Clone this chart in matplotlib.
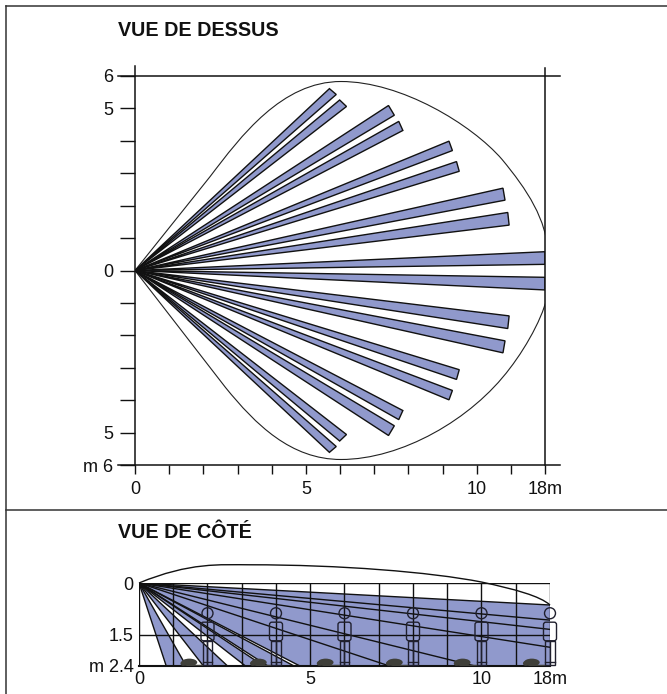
import matplotlib
matplotlib.use('Agg')
import matplotlib.pyplot as plt
from matplotlib.lines import Line2D
from matplotlib.patches import Polygon, PathPatch, Circle, Ellipse, FancyBboxPatch, Rectangle
from matplotlib.path import Path

plt.rcParams['font.family'] = ['Liberation Sans', 'DejaVu Sans']

W = 667
H = 694
BLUE = '#9099cc'
DARK = '#111111'

# vue de dessus: the two far corners of each beam (metres, in the axis graduation)
beam_x1 = [5.69, 5.99, 7.42, 7.72, 9.19, 9.41, 10.77, 10.91, 12.0, 12.0,
           10.95, 10.83, 9.49, 9.29, 7.84, 7.59, 6.19, 5.89]
beam_y1 = [5.61, 5.26, 5.09, 4.60, 3.99, 3.36, 2.54, 1.79, 0.58, -0.21,
           -1.40, -2.17, -3.06, -3.70, -4.32, -4.79, -5.06, -5.43]
beam_x2 = [5.89, 6.19, 7.59, 7.84, 9.29, 9.49, 10.83, 10.95, 12.0, 12.0,
           10.91, 10.77, 9.41, 9.19, 7.72, 7.42, 5.99, 5.69]
beam_y2 = [5.43, 5.06, 4.79, 4.32, 3.70, 3.06, 2.17, 1.40, 0.19, -0.60,
           -1.79, -2.54, -3.36, -3.99, -4.60, -5.09, -5.26, -5.61]

# outline of the detection zone, bezier points
zone_pts = [(0, 0), (2.2, 2.9),
            (3.1, 4.15), (4.3, 5.83), (6.03, 5.83),
            (7.79, 5.83), (9.85, 4.51), (10.74, 3.43),
            (11.47, 2.5), (12.06, 1.57), (12.09, 0.49),
            (12.09, -0.6),
            (12.06, -1.2), (11.5, -2.3), (10.97, -3.02),
            (9.85, -4.6), (7.79, -5.83), (6.03, -5.83),
            (4.56, -5.83), (3.53, -4.75), (2.65, -3.61),
            (0, 0)]
zone_codes = [Path.MOVETO, Path.LINETO,
              Path.CURVE4, Path.CURVE4, Path.CURVE4,
              Path.CURVE4, Path.CURVE4, Path.CURVE4,
              Path.CURVE4, Path.CURVE4, Path.CURVE4,
              Path.LINETO,
              Path.CURVE4, Path.CURVE4, Path.CURVE4,
              Path.CURVE4, Path.CURVE4, Path.CURVE4,
              Path.CURVE4, Path.CURVE4, Path.CURVE4,
              Path.LINETO]

top_xticks = [0, 1, 2, 3, 4, 5, 6, 7, 8, 9, 10, 11, 12]
top_xlabels = ['0', '', '', '', '', '5', '', '', '', '', '10', '', '18m']
top_yticks = [6, 5, 4, 3, 2, 1, 0, -1, -2, -3, -4, -5, -6]
top_ylabels = ['6', '5', '', '', '', '', '0', '', '', '', '', '5', 'm 6']

# vue de cote: rays landing on the floor (x at 2.4 m) and on the far wall (y at 12)
floor_rays = [0.79, 1.37, 1.87, 2.57, 3.09, 3.62, 3.74, 4.50, 4.67, 7.27, 9.75]
wall_rays = [1.87, 1.35, 1.08, 0.64]
# blue strips as start/end on the floor
strip_start = [0.79, 1.87, 3.09, 3.74, 4.67]
strip_end = [1.37, 2.57, 3.62, 4.50]
wall_top = 0.64

arc_pts = [(0, 0),
           (1.49, -0.61), (2.36, -0.53), (3.24, -0.53),
           (5.87, -0.53), (8.5, -0.32), (9.99, -0.03),
           (10.98, 0.18), (11.71, 0.38), (12, 0.64)]
arc_codes = [Path.MOVETO] + [Path.CURVE4] * 9

side_grid_x = [0, 1, 2, 3, 4, 5, 6, 7, 8, 9, 10, 11, 12]
side_grid_y = [0, 1.5, 2.4]
side_xticks = [0, 5, 10, 12]
side_xlabels = ['0', '5', '10', '18m']
side_yticks = [0, 1.5, 2.4]
side_ylabels = ['0', '1.5', 'm 2.4']
person_x = [2, 4, 6, 8, 10, 12]
mouse_x = [1.47, 3.5, 5.45, 7.47, 9.45, 11.47]


def px_axes(fig, left, right, top, bottom):
    return fig.add_axes([left / W, 1 - bottom / H, (right - left) / W, (bottom - top) / H])


def draw_person(ax, x):
    c = '#20202e'
    ax.add_patch(Circle((x, 0.88), 0.16, fc='none', ec=c, lw=1.0, zorder=5, clip_on=False))
    ax.add_patch(FancyBboxPatch((x - 0.19, 1.14), 0.38, 0.54, boxstyle='round,pad=0,rounding_size=0.07',
                                fc='none', ec=c, lw=1.0, zorder=5, clip_on=False))
    ax.add_patch(Rectangle((x - 0.14, 1.68), 0.28, 0.70, fc='none', ec=c, lw=1.0, zorder=5, clip_on=False))
    ax.plot([x, x], [1.68, 2.38], color=c, lw=1.0, zorder=5, clip_on=False)
    ax.plot([x - 0.14, x + 0.14], [2.3, 2.3], color=c, lw=1.0, zorder=5, clip_on=False)


def draw_mouse(ax, x):
    c = '#3f3f39'
    ax.add_patch(Ellipse((x, 2.31), 0.46, 0.22, fc=c, ec='none', zorder=4))
    ax.add_patch(Ellipse((x - 0.18, 2.34), 0.16, 0.14, fc=c, ec='none', zorder=4))
    ax.plot([x, x + 0.38], [2.38, 2.38], color=c, lw=1.0, zorder=4)


fig = plt.figure(figsize=(W / 100, H / 100), dpi=100)

# frame
for xs, ys in [([6, 667], [6, 6]), ([6, 6], [6, 694]), ([6, 667], [510, 510])]:
    fig.add_artist(Line2D([x / W for x in xs], [1 - y / H for y in ys], color='#333333', lw=1.1))

fig.text(118 / W, 1 - 30 / H, 'VUE DE DESSUS', fontsize=14.25, fontweight='bold', va='center', color='#111111')
fig.text(118 / W, 1 - 533 / H, 'VUE DE CÔTÉ', fontsize=14.25, fontweight='bold', va='center', color='#111111')

# top view
ax = px_axes(fig, 135, 545, 76, 465)
ax.set_xlim(0, 12)
ax.set_ylim(-6, 6)
for s in ax.spines.values():
    s.set_visible(False)
ax.patch.set_visible(False)

ax.add_patch(PathPatch(Path(zone_pts, zone_codes), fc='none', ec='#222222', lw=0.8, zorder=2))
for i in range(len(beam_x1)):
    ax.add_patch(Polygon([(0, 0), (beam_x1[i], beam_y1[i]), (beam_x2[i], beam_y2[i])],
                         closed=True, fc=BLUE, ec=DARK, lw=1.0, zorder=3, joinstyle='miter'))

ax.plot([-0.5, 12.44], [6, 6], color=DARK, lw=1.1, clip_on=False, zorder=4)
ax.plot([-0.5, 12.44], [-6, -6], color=DARK, lw=1.1, clip_on=False, zorder=4)
ax.plot([0, 0], [6.3, -6], color=DARK, lw=1.1, clip_on=False, zorder=4)
ax.plot([12, 12], [6.25, -6], color=DARK, lw=1.1, clip_on=False, zorder=4)
ax.set_xticks(top_xticks)
ax.set_xticklabels(top_xlabels, fontsize=13, color='#111111')
ax.set_yticks(top_yticks)
ax.set_yticklabels(top_ylabels, fontsize=13, color='#111111')
ax.tick_params(axis='x', length=6.5, width=1.0, pad=5, color=DARK)
ax.tick_params(axis='y', length=10.8, width=1.0, pad=5, color=DARK)

# side view
ax2 = px_axes(fig, 139, 550, 583, 665.5)
ax2.set_xlim(0, 12)
ax2.set_ylim(2.4, 0)
for s in ax2.spines.values():
    s.set_visible(False)
ax2.patch.set_visible(False)

for i in range(len(strip_end)):
    ax2.add_patch(Polygon([(0, 0), (strip_start[i], 2.4), (strip_end[i], 2.4)],
                          closed=True, fc=BLUE, ec='none', zorder=1))
ax2.add_patch(Polygon([(0, 0), (12, wall_top), (12, 2.4), (strip_start[-1], 2.4)],
                      closed=True, fc=BLUE, ec='none', zorder=1))

ax2.vlines(side_grid_x, 0, 2.4, color=DARK, lw=1.0, zorder=2)
ax2.hlines(side_grid_y, 0, 12, color=DARK, lw=1.0, zorder=2)

for x in floor_rays:
    ax2.plot([0, x], [0, 2.4], color=DARK, lw=1.0, zorder=3)
for y in wall_rays:
    ax2.plot([0, 12], [0, y], color=DARK, lw=1.0, zorder=3)
ax2.plot([0, 12], [2.4, 2.4], color=DARK, lw=1.5, zorder=3, clip_on=False)

ax2.add_patch(PathPatch(Path(arc_pts, arc_codes), fc='none', ec=DARK, lw=1.0, zorder=4, clip_on=False))

for x in mouse_x:
    draw_mouse(ax2, x)
for x in person_x:
    draw_person(ax2, x)

ax2.set_xticks(side_xticks)
ax2.set_xticklabels(side_xlabels, fontsize=13, color='#111111')
ax2.set_yticks(side_yticks)
ax2.set_yticklabels(side_ylabels, fontsize=13, color='#111111')
ax2.tick_params(axis='x', length=0, pad=4)
ax2.tick_params(axis='y', length=0, pad=4)

fig.savefig('out.png', dpi=100)
